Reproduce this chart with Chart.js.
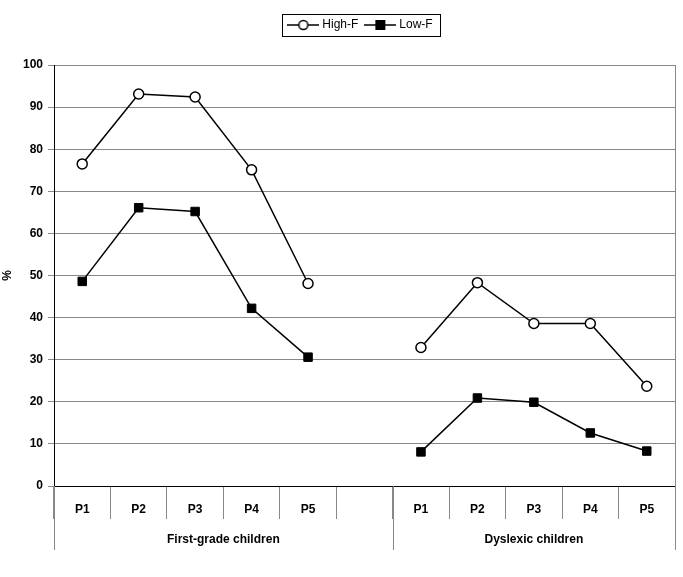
<!DOCTYPE html>
<html>
<head>
<meta charset="utf-8">
<script src="https://cdn.jsdelivr.net/npm/chart.js@4"></script>
<style>
  body { margin: 0; background: #fff; }
  #wrap { width: 683px; height: 577px; }
</style>
</head>
<body>
<div id="wrap"><canvas id="canvasChart" width="683" height="577"></canvas></div>
<script>
// categories: 5 positions per group, blank slot between groups
const categories = ["P1", "P2", "P3", "P4", "P5", "", "P1", "P2", "P3", "P4", "P5"];
const groupLabels = ["First-grade children", "Dyslexic children"];
const groupSizes = [6, 5];

const highF = [76.5, 93.1, 92.4, 75.1, 48.1, null, 32.9, 48.3, 38.6, 38.6, 23.7];
const lowF = [48.6, 66.1, 65.2, 42.2, 30.6, null, 8.1, 20.9, 19.9, 12.6, 8.3];

const yTicks = [0, 10, 20, 30, 40, 50, 60, 70, 80, 90, 100];

const fontFamily = "'Liberation Sans', Arial, sans-serif";

// little legend icons: line with marker through it
const makeIcon = (kind) => {
    const c = document.createElement('canvas');
    c.width = 32; c.height = 12;
    const g = c.getContext('2d');
    g.strokeStyle = '#000';
    g.lineWidth = 1.5;
    g.beginPath(); g.moveTo(0, 6); g.lineTo(32, 6); g.stroke();
    if (kind === 'circle') {
        g.fillStyle = '#fff';
        g.beginPath(); g.arc(16, 6, 4.5, 0, Math.PI * 2); g.fill(); g.stroke();
    } else {
        g.fillStyle = '#000';
        g.fillRect(11, 1, 10, 10);
    }
    return c;
};
const icons = [makeIcon('circle'), makeIcon('rect')];

// extra room under the legend, and nudge it right like the original
const legendSpacePlugin = {
    id: 'legendSpace',
    beforeInit(chart) {
        const origFit = chart.legend.fit;
        chart.legend.fit = function () {
            origFit.bind(chart.legend)();
            this.height += 24;
        };
    },
    afterLayout(chart) {
        chart.legend.left += 24;
        chart.legend.right += 24;
    }
};

const groupAxisPlugin = {
    id: 'groupAxis',
    afterDraw(chart) {
        const ctx = chart.ctx;
        const x = chart.scales.x;
        const area = chart.chartArea;
        const lineBottom = area.bottom + 64;
        ctx.save();
        ctx.strokeStyle = '#888';
        ctx.lineWidth = 1;
        // right border of plot area
        ctx.beginPath();
        ctx.moveTo(Math.round(area.right) + 0.5, area.top);
        ctx.lineTo(Math.round(area.right) + 0.5, lineBottom);
        ctx.stroke();
        // group separators + labels
        let start = 0;
        ctx.font = "bold 12px " + fontFamily;
        ctx.fillStyle = '#000';
        ctx.textAlign = 'center';
        ctx.textBaseline = 'middle';
        groupSizes.forEach((size, i) => {
            const end = start + size - 1;
            const left = start === 0 ? area.left : (x.getPixelForValue(start - 1) + x.getPixelForValue(start)) / 2;
            const right = end === categories.length - 1 ? area.right : (x.getPixelForValue(end) + x.getPixelForValue(end + 1)) / 2;
            ctx.beginPath();
            ctx.moveTo(Math.round(left) + 0.5, area.bottom);
            ctx.lineTo(Math.round(left) + 0.5, lineBottom);
            ctx.stroke();
            ctx.fillText(groupLabels[i], (left + right) / 2, area.bottom + 54);
            start += size;
        });
        // legend frame
        const boxes = chart.legend.legendHitBoxes;
        if (boxes && boxes.length) {
            const first = boxes[0], last = boxes[boxes.length - 1];
            const l = first.left - 8, r = last.left + last.width + 8;
            const t = first.top - 5, b = first.top + first.height + 5;
            ctx.strokeStyle = '#000';
            ctx.strokeRect(Math.round(l) + 0.5, Math.round(t) + 0.5, Math.round(r - l), Math.round(b - t));
        }
        ctx.restore();
    }
};

const chartCfg = {
    type: 'line',
    data: {
        labels: categories,
        datasets: [{
            label: 'High-F',
            data: highF,
            borderColor: '#000',
            borderWidth: 1.5,
            pointStyle: 'circle',
            pointRadius: 5,
            pointBackgroundColor: '#fff',
            pointBorderColor: '#000',
            pointBorderWidth: 1.5,
            spanGaps: false,
            tension: 0
        }, {
            label: 'Low-F',
            data: lowF,
            borderColor: '#000',
            borderWidth: 1.5,
            pointStyle: 'rect',
            pointRadius: 6,
            pointBackgroundColor: '#000',
            pointBorderColor: '#000',
            pointBorderWidth: 1,
            spanGaps: false,
            tension: 0
        }]
    },
    options: {
        responsive: false,
        animation: false,
        layout: { padding: { top: 10, right: 8, left: 0, bottom: 0 } },
        plugins: {
            tooltip: { enabled: false },
            legend: {
                position: 'top',
                labels: {
                    color: '#000',
                    font: { family: fontFamily, size: 12 },
                    usePointStyle: true,
                    pointStyleWidth: 26,
                    boxWidth: 26,
                    boxHeight: 12,
                    padding: 9,
                    generateLabels: (chart) => chart.data.datasets.map((ds, i) => ({
                        text: ds.label,
                        pointStyle: icons[i],
                        datasetIndex: i,
                        fontColor: '#000',
                        lineWidth: 0,
                        strokeStyle: 'transparent',
                        fillStyle: 'transparent'
                    }))
                }
            }
        },
        scales: {
            x: {
                type: 'category',
                offset: true,
                grid: {
                    offset: true,
                    drawOnChartArea: false,
                    drawTicks: true,
                    tickLength: 33,
                    color: '#888'
                },
                border: { display: true, color: '#000' },
                ticks: {
                    color: '#000',
                    font: { family: fontFamily, size: 12, weight: 'bold' },
                    padding: -17,
                    maxRotation: 0,
                    autoSkip: false
                },
                afterFit: (scale) => { scale.height = 91; }
            },
            y: {
                min: 0,
                max: 100,
                afterBuildTicks: (scale) => { scale.ticks = yTicks.map(v => ({ value: v })); },
                grid: { color: '#888', tickLength: 6, tickColor: '#888' },
                border: { display: true, color: '#000' },
                ticks: {
                    color: '#000',
                    font: { family: fontFamily, size: 12, weight: 'bold' },
                    padding: 5
                },
                title: {
                    display: true,
                    text: '%',
                    color: '#000',
                    font: { family: fontFamily, size: 12, weight: 'bold' },
                    padding: { top: 0, bottom: 0, left: 3, right: 0 }
                },
                afterFit: (scale) => { scale.width = 54; }
            }
        }
    },
    plugins: [legendSpacePlugin, groupAxisPlugin]
};

let chart = new Chart(document.getElementById('canvasChart'), chartCfg);
</script>
</body>
</html>
